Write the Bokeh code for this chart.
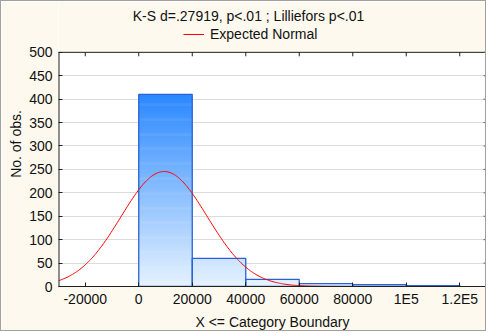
import numpy as np
from bokeh.plotting import figure
from bokeh.models import (Range1d, FixedTicker, Legend, LegendItem, Label, BoxAnnotation)
from bokeh.embed import file_html
from bokeh.resources import INLINE

# ---- data ----
bin_left = [0, 20000, 40000, 60000, 80000, 100000]
bin_right = [20000, 40000, 60000, 80000, 100000, 120000]
counts = [410, 60, 15, 6, 4, 2]
x_ticks = [-20000, 0, 20000, 40000, 60000, 80000, 100000, 120000]
x_tick_labels = ["-20000", "0", "20000", "40000", "60000", "80000", "1E5", "1.2E5"]
y_ticks = [0, 50, 100, 150, 200, 250, 300, 350, 400, 450, 500]
fit_mean = 9500.0
fit_sd = 16150.0
bin_width = 20000.0
title_text = "K-S d=.27919, p<.01 ; Lilliefors p<.01"
legend_text = "Expected Normal"

FONT = "Liberation Sans"
BG = "#FDF9EE"
TXT = "#111111"

# layout (canvas pixels)
W, H = 486, 331
FRAME_L, FRAME_R = 57, 485
FRAME_B = 286
PLOT_TOP_PX = 51
X0, X1, YMAX = -30000, 130000, 500
px_per_y = (FRAME_B - PLOT_TOP_PX) / YMAX
Y_TOP = YMAX + PLOT_TOP_PX / px_per_y
px_per_x = (FRAME_R - FRAME_L) / (X1 - X0)

def xpx(px):
    return X0 + (px - FRAME_L) / px_per_x

def ypx(py):
    return (FRAME_B - py) / px_per_y

p = figure(width=W, height=H, output_backend="svg", toolbar_location=None,
           x_range=Range1d(X0, X1), y_range=Range1d(0, Y_TOP),
           min_border_left=FRAME_L, min_border_right=W - FRAME_R, min_border_top=0,
           min_border_bottom=H - FRAME_B, background_fill_color="white",
           border_fill_color=BG, outline_line_color=None)
p.styles = {"border": "1px solid #A0A0A0"}

# cream header region above the plot area
p.add_layout(BoxAnnotation(bottom=YMAX, fill_color=BG, fill_alpha=1.0,
                           line_color=None, level="underlay"))

# gradient bars via horizontal bands
top_col = np.array([0x2A, 0x88, 0xFF])
bot_col = np.array([0xE6, 0xF2, 0xFF])
vmax = max(counts)
step = 2.0
L, R, B, T, C = [], [], [], [], []
nb = int(np.ceil(vmax / step))
for i in range(nb):
    lo = i * step
    hi = lo + step
    f = (lo + step / 2) / vmax
    col = bot_col + (top_col - bot_col) * min(f, 1.0)
    hexc = "#%02x%02x%02x" % tuple(int(round(c)) for c in col)
    for bl, br, c in zip(bin_left, bin_right, counts):
        if c > lo:
            L.append(bl); R.append(br); B.append(lo)
            T.append(min(hi + step * 0.6, c)); C.append(hexc)
p.quad(left=L, right=R, bottom=B, top=T, fill_color=C, line_color=None)
p.quad(left=bin_left, right=bin_right, bottom=0, top=counts,
       fill_color=None, line_color="#2A62D6", line_width=1.3)

# expected normal
n_total = sum(counts)
xs = np.linspace(X0, X1, 400)
ys = n_total * bin_width / (fit_sd * np.sqrt(2 * np.pi)) * np.exp(-0.5 * ((xs - fit_mean) / fit_sd) ** 2)
curve = p.line(xs, ys, line_color="#FF0000", line_width=1)

# grid
p.xgrid.visible = False
p.ygrid.ticker = FixedTicker(ticks=y_ticks)
p.ygrid.grid_line_color = "#DCDCDC"
p.ygrid.grid_line_width = 1

# frame edges and inner ticks on top/right
tick_dy = 4 / px_per_y
tick_dx = 3 / px_per_x
p.segment(x0=[X0, X0], y0=[0, YMAX], x1=[X0, X1], y1=[YMAX, YMAX],
          line_color="#202020", line_width=[2, 1])
p.segment(x0=[X1], y0=[0], x1=[X1], y1=[YMAX], line_color="#808080", line_width=3)
p.segment(x0=x_ticks, x1=x_ticks, y0=[YMAX - tick_dy] * len(x_ticks), y1=[YMAX] * len(x_ticks),
          line_color="#202020", line_width=1)
p.segment(x0=[X1 - tick_dx] * len(y_ticks), x1=[X1] * len(y_ticks), y0=y_ticks, y1=y_ticks,
          line_color="#606060", line_width=1)

# axes
ax = p.xaxis[0]
ax.ticker = FixedTicker(ticks=x_ticks)
ax.major_label_overrides = {t: l for t, l in zip(x_ticks, x_tick_labels)}
ax.axis_label = "X <= Category Boundary"
ay = p.yaxis[0]
ay.ticker = FixedTicker(ticks=y_ticks)
ay.axis_label = "No. of obs."
for a in (ax, ay):
    a.major_label_text_font = FONT
    a.major_label_text_font_size = "14px"
    a.major_label_text_color = TXT
    a.axis_label_text_font = FONT
    a.axis_label_text_font_size = "14px"
    a.axis_label_text_font_style = "normal"
    a.axis_label_text_color = TXT
    a.major_tick_in = 4
    a.major_tick_out = 0
    a.minor_tick_line_color = None
    a.major_tick_line_color = "#202020"
ax.axis_line_color = "#202020"
ay.axis_line_color = None
ax.major_label_standoff = 4
ax.axis_label_standoff = 4
ay.major_label_standoff = 6
ay.axis_label_standoff = 2

# title and legend in the header region
p.add_layout(Label(x=xpx(247), y=ypx(15), text=title_text, text_align="center",
                   text_baseline="middle", text_font=FONT, text_font_size="14px",
                   text_color=TXT))
legend = Legend(items=[LegendItem(label=legend_text, renderers=[curve])],
                location=(182 - FRAME_L, FRAME_B - 42), orientation="horizontal",
                background_fill_alpha=0, border_line_color=None,
                label_text_font=FONT, label_text_font_size="14px",
                label_text_color=TXT, glyph_width=21, glyph_height=14,
                padding=0, margin=0, label_standoff=6, label_height=14)
p.add_layout(legend, "center")

open("out.html", "w").write(file_html(p, INLINE))
